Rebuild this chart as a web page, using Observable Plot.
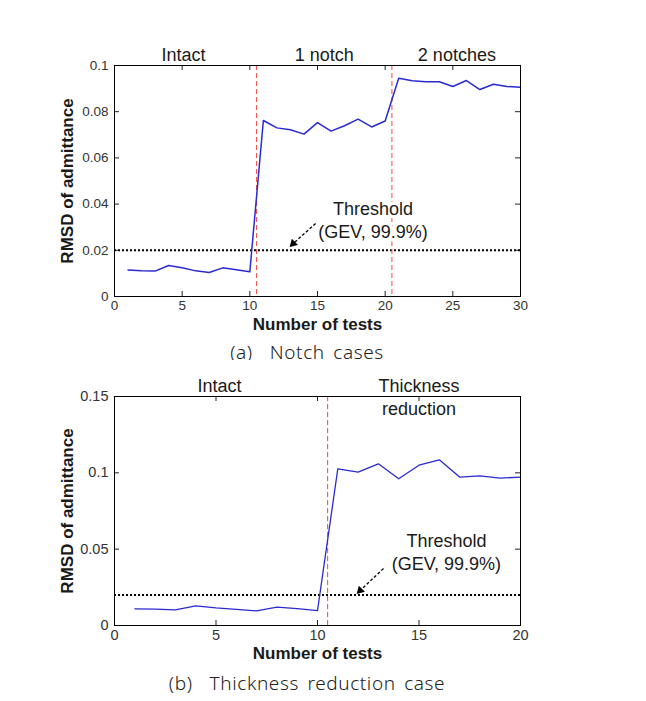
<!DOCTYPE html>
<html>
<head>
<meta charset="utf-8">
<script src="https://cdn.jsdelivr.net/npm/d3@7"></script>
<script src="https://cdn.jsdelivr.net/npm/@observablehq/plot@0.6"></script>
<style>
  html, body { margin: 0; padding: 0; background: #fff; }
  #wrap { position: relative; width: 646px; height: 701px; font-family: "Liberation Sans", Arial, sans-serif; }
  .panel { position: absolute; left: 0; }
  .caption { position: absolute; width: 400px; left: 107px; text-align: center; font-family: "Noto Sans", "Noto Sans CJK KR", sans-serif; font-weight: 300; font-size: 19px; letter-spacing: 0.6px; color: #222; word-spacing: 3px; }
</style>
</head>
<body>
<div id="wrap">
  <div class="panel" id="pa" style="top:0px"></div>
  <div class="caption" style="top:339px">(a)&nbsp; Notch cases</div>
  <div class="panel" id="pb" style="top:360px"></div>
  <div class="caption" style="top:670px">(b)&nbsp; Thickness reduction case</div>
</div>
<script>
// ---------- Data: (a) notch cases ----------
const notchTests = [1,2,3,4,5,6,7,8,9,10,11,12,13,14,15,16,17,18,19,20,21,22,23,24,25,26,27,28,29,30];
const notchRmsd = [0.0115,0.0111,0.0110,0.0134,0.0124,0.0111,0.0104,0.0124,0.0116,0.0107,
                   0.0762,0.0730,0.0722,0.0703,0.0753,0.0716,0.0739,0.0768,0.0734,0.0760,
                   0.0945,0.0934,0.0930,0.0930,0.0909,0.0935,0.0896,0.0919,0.0909,0.0906];
const notchXTicks = [0,5,10,15,20,25,30];
const notchYTicks = [0,0.02,0.04,0.06,0.08,0.1];
const notchBoundaries = [10.5, 20.5];
const notchRegionLabels = ["Intact","1 notch","2 notches"];
const notchRegionX = [5.1, 15.5, 25.3];
const notchThresholdText = {x: 19.1, y: 0.0335};
const notchArrow = {x1: 14.86, y1: 0.0316, x2: 13.2, y2: 0.0229};

// ---------- Data: (b) thickness reduction ----------
const thickTests = [1,2,3,4,5,6,7,8,9,10,11,12,13,14,15,16,17,18,19,20];
const thickRmsd = [0.0109,0.0107,0.0103,0.0129,0.0116,0.0106,0.0096,0.0120,0.0110,0.0098,
                   0.1026,0.1004,0.1059,0.0961,0.1050,0.1085,0.0972,0.0980,0.0965,0.0972];
const thickXTicks = [0,5,10,15,20];
const thickYTicks = [0,0.05,0.1,0.15];
const thickBoundaries = [10.5];
const thickRegionLabels = ["Intact","Thickness\nreduction"];
const thickRegionX = [5.17, 15];
const thickThresholdText = {x: 16.35, y: 0.0485};
const thickArrow = {x1: 13.25, y1: 0.0373, x2: 12.1, y2: 0.0229};

const threshold = 0.02;
const thresholdLabel = "Threshold\n(GEV, 99.9%)";
const xLabel = "Number of tests";
const yLabel = "RMSD of admittance";

const FONT = "Liberation Sans, Arial, sans-serif";
const TXT = "#1a1a1a";

function panel({tests, rmsd, xDomain, yDomain, xTicks, yTicks, boundaries, regionLabels, regionX, thText, arrow, height, marginTop, marginBottom, lineWidth, tickFont}) {
  const ml = 114, mr = 126;
  const fw = 646 - ml - mr;
  const fh = height - marginTop - marginBottom;
  const series = tests.map((t, i) => ({t, v: rmsd[i]}));
  const tick = 5;
  return Plot.plot({
    width: 646,
    height,
    marginLeft: ml,
    marginRight: mr,
    marginTop,
    marginBottom,
    style: {fontFamily: FONT, color: TXT, background: "white", overflow: "visible"},
    x: {domain: xDomain, label: null},
    y: {domain: yDomain, label: null},
    marks: [
      // inward ticks on all four sides
      Plot.tickX(xTicks, {x: d => d, insetTop: fh - tick, stroke: "#222"}),
      Plot.tickX(xTicks, {x: d => d, insetBottom: fh - tick, stroke: "#222"}),
      Plot.tickY(yTicks, {y: d => d, insetRight: fw - tick, stroke: "#222"}),
      Plot.tickY(yTicks, {y: d => d, insetLeft: fw - tick, stroke: "#222"}),
      Plot.axisX(xTicks, {tickSize: 0, tickPadding: 4, fontSize: tickFont, tickFormat: d => String(d), fill: "#333"}),
      Plot.axisY(yTicks, {tickSize: 0, tickPadding: 6, fontSize: tickFont, tickFormat: d => String(d), fill: "#333"}),
      // threshold
      Plot.ruleY([threshold], {stroke: "black", strokeWidth: 2, strokeDasharray: "2,2"}),
      // boundaries
      Plot.ruleX(boundaries, {stroke: "#f04848", strokeWidth: 1, strokeDasharray: "5,3"}),
      // data line
      Plot.line(series, {x: "t", y: "v", stroke: "#2a2ad0", strokeWidth: lineWidth}),
      // threshold annotation
      Plot.text([thresholdLabel], {x: () => thText.x, y: () => thText.y, text: d => d, fontSize: 18, lineHeight: 1.25, lineAnchor: "middle", fill: TXT, stroke: "white", strokeWidth: 7}),
      Plot.link([arrow], {x1: "x1", y1: "y1", x2: "x2", y2: "y2", stroke: "black", strokeWidth: 1.3, strokeDasharray: "3,2"}),
      Plot.dot([arrow], {x: "x2", y: "y2", symbol: "triangle", r: 3.2, fill: "black", stroke: "none", rotate: 225}),
      Plot.frame({stroke: "black", strokeWidth: 1}),
      // region labels
      Plot.text(regionLabels, {x: (d, i) => regionX[i], text: d => d, frameAnchor: "top", dy: -20, lineAnchor: "top", lineHeight: 1.25, fontSize: 18, fill: TXT}),
      // axis titles
      Plot.text([xLabel], {frameAnchor: "bottom", dy: 28, lineAnchor: "middle", text: d => d, fontSize: 17, fontWeight: "bold", fill: TXT}),
      Plot.text([yLabel], {frameAnchor: "left", textAnchor: "middle", dx: -47, rotate: -90, text: d => d, fontSize: 17, fontWeight: "bold", fill: TXT})
    ]
  });
}

document.getElementById("pa").append(panel({
  tests: notchTests, rmsd: notchRmsd, xDomain: [0, 30], yDomain: [0, 0.1],
  xTicks: notchXTicks, yTicks: notchYTicks, boundaries: notchBoundaries,
  regionLabels: notchRegionLabels, regionX: notchRegionX,
  thText: notchThresholdText, arrow: notchArrow,
  height: 335, marginTop: 65, marginBottom: 39, lineWidth: 1.5, tickFont: 13.5
}));

document.getElementById("pb").append(panel({
  tests: thickTests, rmsd: thickRmsd, xDomain: [0, 20], yDomain: [0, 0.15],
  xTicks: thickXTicks, yTicks: thickYTicks, boundaries: thickBoundaries,
  regionLabels: thickRegionLabels, regionX: thickRegionX,
  thText: thickThresholdText, arrow: thickArrow,
  height: 305, marginTop: 36, marginBottom: 40, lineWidth: 1.3, tickFont: 14.5
}));
</script>
</body>
</html>
